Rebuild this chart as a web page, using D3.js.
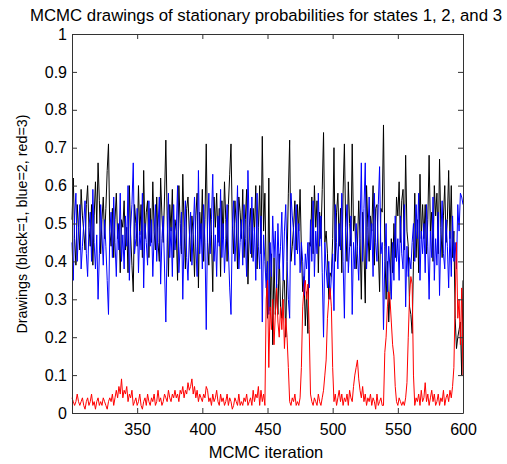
<!doctype html>
<html lang="en">
<head>
  <meta charset="utf-8">
  <title>MCMC drawings</title>
  <style>
    body { margin: 0; background: #fff; }
    text { font-family: "Liberation Sans", Arial, sans-serif; fill: #000; }
  </style>
</head>
<body>
  <script src="https://cdn.jsdelivr.net/npm/d3@7"></script>
  <script>
    // drawings, iterations 300..600
    var firstIter = 300
    var state1 = [ // black
      .51,.62,.46,.39,.55,.49,.43,.59,.52,.48,
      .43,.55,.60,.49,.44,.55,.39,.52,.61,.50,
      .66,.56,.42,.51,.57,.46,.54,.64,.71,.48,
      .44,.54,.41,.51,.58,.46,.50,.37,.51,.49,
      .56,.43,.49,.37,.60,.47,.39,.32,.55,.50,
      .44,.60,.47,.55,.41,.64,.46,.53,.56,.41,
      .54,.45,.61,.48,.43,.57,.45,.40,.62,.52,
      .45,.57,.72,.52,.36,.55,.48,.59,.41,.51,
      .48,.35,.60,.50,.42,.63,.49,.38,.54,.57,
      .48,.40,.52,.47,.36,.52,.58,.33,.53,.46,
      .59,.40,.51,.71,.45,.39,.54,.47,.32,.57,
      .49,.58,.45,.54,.36,.56,.46,.61,.51,.40,
      .55,.63,.71,.50,.42,.56,.50,.38,.57,.53,
      .46,.59,.41,.51,.59,.34,.49,.54,.41,.54,
      .48,.60,.38,.49,.60,.42,.73,.48,.58,.37,
      .25,.62,.27,.42,.18,.41,.26,.34,.26,.42,
      .28,.25,.35,.35,.20,.40,.58,.72,.40,.44,
      .49,.56,.43,.55,.48,.59,.43,.32,.36,.23,
      .32,.21,.45,.44,.57,.42,.60,.49,.56,.37,
      .53,.46,.59,.74,.45,.48,.42,.30,.37,.36,
      .46,.70,.40,.53,.58,.44,.54,.37,.58,.71,
      .49,.40,.61,.50,.44,.71,.48,.52,.38,.44,
      .56,.46,.30,.53,.43,.29,.60,.49,.40,.52,
      .48,.60,.39,.54,.55,.43,.32,.54,.53,.76,
      .44,.30,.40,.24,.32,.46,.37,.50,.41,.57,
      .52,.61,.45,.56,.59,.43,.68,.48,.44,.28,
      .26,.21,.40,.58,.41,.51,.37,.63,.46,.55,
      .46,.55,.42,.51,.68,.48,.53,.40,.60,.52,
      .58,.42,.67,.49,.41,.52,.60,.45,.51,.64,
      .46,.60,.41,.48,.25,.17,.20,.22,.24,.10,
      .35
    ]
    var state2 = [ // blue
      .45,.35,.52,.58,.40,.48,.55,.38,.44,.50,
      .56,.42,.36,.49,.53,.40,.59,.45,.38,.47,
      .30,.42,.55,.47,.39,.51,.44,.35,.26,.48,
      .53,.41,.57,.45,.36,.50,.43,.58,.40,.47,
      .38,.52,.44,.60,.35,.49,.55,.66,.42,.46,
      .54,.37,.48,.43,.58,.33,.50,.45,.39,.56,
      .44,.51,.36,.47,.55,.40,.49,.57,.34,.46,
      .52,.38,.24,.45,.58,.41,.49,.36,.55,.43,
      .48,.60,.37,.44,.53,.30,.47,.56,.41,.35,
      .46,.53,.39,.48,.57,.44,.36,.64,.42,.50,
      .38,.55,.45,.22,.49,.58,.42,.51,.63,.40,
      .47,.36,.52,.44,.59,.41,.50,.37,.46,.55,
      .43,.33,.26,.49,.56,.40,.47,.60,.38,.45,
      .51,.39,.55,.46,.36,.64,.48,.42,.57,.40,
      .49,.35,.58,.44,.38,.52,.24,.47,.40,.33,
      .40,.26,.45,.36,.52,.41,.48,.33,.50,.38,
      .44,.53,.35,.48,.55,.40,.30,.25,.58,.52,
      .48,.39,.55,.42,.50,.37,.45,.40,.31,.42,
      .38,.45,.33,.51,.40,.56,.36,.48,.42,.58,
      .44,.52,.37,.20,.45,.38,.33,.40,.30,.36,
      .42,.27,.55,.45,.38,.50,.43,.58,.40,.25,
      .48,.55,.37,.44,.52,.26,.45,.38,.50,.42,
      .35,.48,.66,.40,.54,.66,.38,.47,.57,.43,
      .50,.36,.58,.45,.40,.55,.65,.42,.45,.22,
      .40,.50,.32,.44,.38,.30,.45,.35,.52,.40,
      .46,.35,.52,.42,.38,.55,.28,.44,.36,.41,
      .38,.45,.50,.40,.55,.46,.58,.35,.48,.42,
      .50,.37,.55,.44,.30,.48,.41,.57,.35,.46,
      .39,.53,.31,.47,.56,.42,.38,.51,.44,.33,
      .48,.36,.52,.40,.45,.38,.55,.48,.58,.57,
      .55
    ]
    var state3 = [ // red
      .04,.03,.02,.03,.05,.03,.02,.03,.04,.02,
      .01,.03,.04,.02,.03,.05,.02,.03,.01,.03,
      .04,.02,.03,.02,.04,.03,.02,.01,.03,.04,
      .03,.05,.02,.04,.06,.04,.07,.05,.09,.04,
      .06,.05,.07,.03,.05,.04,.06,.02,.03,.04,
      .02,.03,.05,.02,.01,.03,.04,.02,.05,.03,
      .02,.04,.03,.05,.02,.03,.06,.03,.04,.02,
      .03,.05,.04,.03,.06,.04,.03,.05,.04,.06,
      .04,.05,.03,.06,.05,.07,.04,.06,.05,.08,
      .06,.07,.09,.05,.07,.04,.06,.03,.05,.04,
      .03,.05,.04,.07,.06,.03,.04,.02,.05,.03,
      .04,.06,.03,.02,.05,.03,.04,.02,.03,.05,
      .02,.04,.03,.01,.02,.04,.03,.02,.05,.02,
      .03,.02,.04,.03,.05,.02,.03,.04,.02,.06,
      .03,.05,.04,.07,.02,.06,.03,.05,.02,.30,
      .35,.12,.28,.22,.30,.18,.26,.33,.24,.20,
      .28,.22,.30,.17,.25,.20,.12,.03,.02,.04,
      .03,.05,.02,.03,.02,.04,.12,.28,.33,.35,
      .30,.34,.22,.05,.03,.02,.04,.03,.02,.05,
      .03,.02,.04,.06,.10,.14,.25,.30,.33,.28,
      .12,.03,.05,.02,.04,.06,.03,.05,.02,.04,
      .03,.05,.02,.06,.04,.03,.07,.10,.12,.14,
      .09,.06,.04,.07,.03,.05,.02,.04,.03,.05,
      .02,.04,.03,.01,.05,.02,.03,.04,.02,.02,
      .16,.20,.28,.32,.30,.24,.18,.15,.07,.03,
      .02,.04,.03,.02,.03,.02,.04,.08,.20,.31,
      .36,.34,.10,.02,.04,.03,.05,.02,.06,.03,
      .04,.08,.03,.05,.02,.04,.06,.03,.05,.02,
      .03,.05,.02,.04,.03,.06,.02,.04,.05,.03,
      .06,.04,.07,.12,.30,.45,.25,.30,.18,.33,
      .10
    ]
    var seriesColors = ['#000000', '#0000ff', '#ff0000']
    var xTicks = [350, 400, 450, 500, 550, 600]
    var yTicks = [0, 0.1, 0.2, 0.3, 0.4, 0.5, 0.6, 0.7, 0.8, 0.9, 1]

    var margin = { left: 72, right: 44, top: 34, bottom: 51 }
    var width = 507 - margin.left - margin.right
    var height = 464 - margin.top - margin.bottom

    var svg = d3.select('body').append('svg')
      .attr('width', 507)
      .attr('height', 464)

    var g = svg.append('g')
      .attr('transform', 'translate(' + margin.left + ',' + margin.top + ')')

    var x = d3.scaleLinear()
      .domain([firstIter, firstIter + state1.length - 1])
      .range([0, width])

    var y = d3.scaleLinear()
      .domain([0, 1])
      .range([height, 0])

    var line = d3.line()
      .x(function(d, i) { return x(firstIter + i) })
      .y(function(d) { return y(d) })

    g.selectAll('.series')
      .data([state1, state2, state3])
      .enter().append('path')
        .attr('class', 'series')
        .attr('d', line)
        .style('fill', 'none')
        .style('stroke', function(d, i) { return seriesColors[i] })
        .style('stroke-width', 1)

    // matlab style box with inward ticks on all sides
    var xAxis = d3.axisBottom(x).tickValues(xTicks).tickSizeInner(-5).tickSizeOuter(0).tickPadding(11)
    var yAxis = d3.axisLeft(y).tickValues(yTicks).tickSizeInner(-5).tickSizeOuter(0).tickPadding(5)
      .tickFormat(d3.format('~g'))

    g.append('g')
      .attr('class', 'axis')
      .attr('transform', 'translate(0,' + height + ')')
      .call(xAxis)
    g.append('g')
      .attr('class', 'axis')
      .call(yAxis)
    g.append('g')
      .attr('class', 'axis')
      .call(d3.axisTop(x).tickValues(xTicks).tickSizeInner(-5).tickSizeOuter(0).tickFormat(''))
    g.append('g')
      .attr('class', 'axis')
      .attr('transform', 'translate(' + width + ',0)')
      .call(d3.axisRight(y).tickValues(yTicks).tickSizeInner(-5).tickSizeOuter(0).tickFormat(''))

    g.selectAll('.axis path').attr('stroke', '#333')
    g.selectAll('.axis line').attr('stroke', '#333')
    g.selectAll('.axis text')
      .style('font-family', '"Liberation Sans", Arial, sans-serif')
      .style('font-size', '16px')

    svg.append('text')
      .attr('x', 266)
      .attr('y', 21)
      .attr('text-anchor', 'middle')
      .style('font-size', '16.8px')
      .text('MCMC drawings of stationary probabilities for states 1, 2, and 3')

    svg.append('text')
      .attr('x', 266)
      .attr('y', 458)
      .attr('text-anchor', 'middle')
      .style('font-size', '16.5px')
      .text('MCMC iteration')

    svg.append('text')
      .attr('transform', 'translate(27,' + 224 + ') rotate(-90)')
      .attr('text-anchor', 'middle')
      .style('font-size', '14.3px')
      .text('Drawings (black=1, blue=2, red=3)')
  </script>
</body>
</html>
